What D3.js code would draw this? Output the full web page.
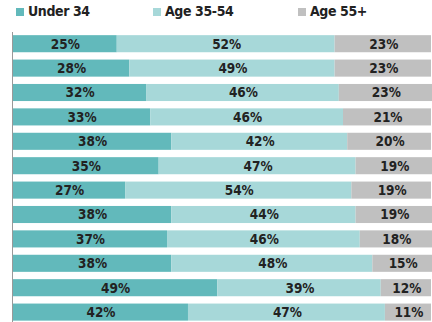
<!DOCTYPE html>
<html>
<head>
<meta charset="utf-8">
<script src="https://cdn.jsdelivr.net/npm/d3@7"></script>
<style>
	body { margin: 0; background: #fff; }
	svg { display: block; }
	text { font-family: "DejaVu Sans Condensed", "Liberation Sans Narrow", sans-serif; font-weight: bold; fill: #222; }
</style>
</head>
<body>
<svg id="chart" width="432" height="322"></svg>
<script>
// data
var rows = ["r1", "r2", "r3", "r4", "r5", "r6", "r7", "r8", "r9", "r10", "r11", "r12"];
var groups = ["Under 34", "Age 35-54", "Age 55+"];
var under34 = [25, 28, 32, 33, 38, 35, 27, 38, 37, 38, 49, 42];
var age3554 = [52, 49, 46, 46, 42, 47, 54, 44, 46, 48, 39, 47];
var age55 = [23, 23, 23, 21, 20, 19, 19, 19, 18, 15, 12, 11];
var colors = ["#62b9bb", "#a7d8d9", "#c0c0c0"];

var table = rows.map(function(r, i) {
	return { row: r, "Under 34": under34[i], "Age 35-54": age3554[i], "Age 55+": age55[i] };
});

var svg = d3.select("#chart");

var x = d3.scaleLinear().domain([0, 100]).range([12, 431]);
var y = d3.scaleBand().domain(rows).range([31.5, 324.3]).paddingInner(0.3).paddingOuter(0.15);

var series = d3.stack().keys(groups)(table);

var layer = svg.selectAll("g.layer")
	.data(series)
	.enter()
	.append("g")
	.attr("class", "layer")
	.attr("fill", function(d, i) { return colors[i]; });

layer.selectAll("rect")
	.data(function(d) { return d; })
	.enter()
	.append("rect")
	.attr("x", function(d) { return x(d[0]); })
	.attr("y", function(d) { return y(d.data.row); })
	.attr("width", function(d) { return x(d[1]) - x(d[0]); })
	.attr("height", y.bandwidth());

// labels centred in each segment
layer.selectAll("text")
	.data(function(d) { return d.map(function(v) { v.key = d.key; return v; }); })
	.enter()
	.append("text")
	.attr("x", function(d) { return (x(d[0]) + Math.min(x(d[1]), 432)) / 2 + 1; })
	.attr("y", function(d) { return y(d.data.row) + y.bandwidth() / 2; })
	.attr("dy", "0.37em")
	.attr("text-anchor", "middle")
	.style("font-size", "13.5px")
	.text(function(d) { return d.data[d.key] + "%"; });

// axis line
svg.append("line")
	.attr("x1", 12.5).attr("x2", 12.5)
	.attr("y1", 32).attr("y2", 322)
	.attr("stroke", "#999")
	.attr("stroke-width", 1);

// legend
var legendX = [16, 153, 298];
var legend = svg.selectAll("g.legend")
	.data(groups)
	.enter()
	.append("g")
	.attr("class", "legend")
	.attr("transform", function(d, i) { return "translate(" + legendX[i] + ",8)"; });

legend.append("rect")
	.attr("width", 8).attr("height", 8)
	.attr("fill", function(d, i) { return colors[i]; });

legend.append("text")
	.attr("x", 12)
	.attr("y", 8)
	.style("font-size", "14px")
	.style("letter-spacing", "-0.4px")
	.text(function(d) { return d; });
</script>
</body>
</html>
